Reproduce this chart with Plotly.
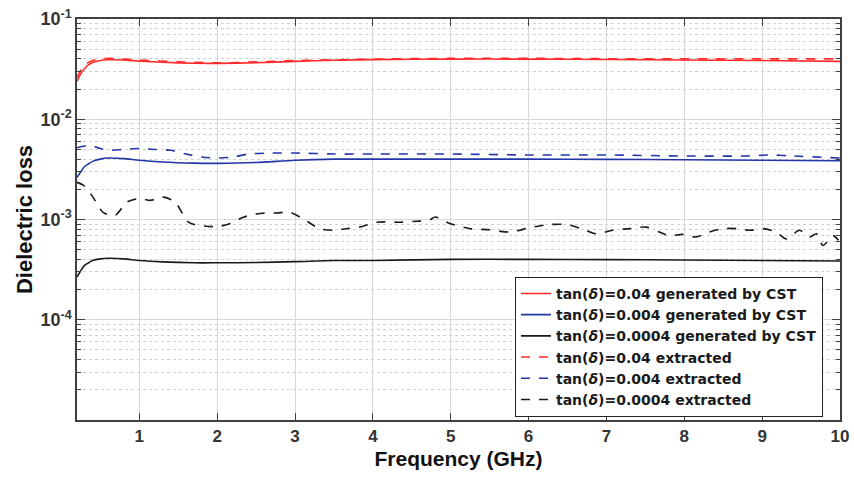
import plotly.graph_objects as go

# Frequency grids (GHz)
freq_cst = [0.2, 0.25, 0.3, 0.35, 0.4, 0.5, 0.6, 0.8, 1.0, 1.3, 1.7, 2.0, 2.5, 3.0,
            3.5, 4.0, 5.0, 6.0, 7.0, 8.0, 9.0, 10.0]

# Dielectric loss generated by CST
red_cst = [0.0239, 0.0285, 0.0322, 0.0350, 0.0368, 0.0385, 0.0392, 0.0390, 0.0380,
           0.0370, 0.0362, 0.0361, 0.0366, 0.0378, 0.0388, 0.0393, 0.0398, 0.0398,
           0.0395, 0.0390, 0.0385, 0.0378]
blue_cst = [0.00263, 0.0030, 0.0034, 0.0036, 0.0038, 0.0040, 0.0041, 0.00405, 0.0039,
            0.00375, 0.00365, 0.00363, 0.0037, 0.0039, 0.0040, 0.0040, 0.0040, 0.0040,
            0.00398, 0.00395, 0.0039, 0.00385]
black_cst = [0.000267, 0.00031, 0.00035, 0.00037, 0.00039, 0.000405, 0.00041, 0.000405,
             0.00039, 0.000378, 0.00037, 0.00037, 0.000372, 0.00038, 0.00039, 0.00039,
             0.00040, 0.00040, 0.000398, 0.000395, 0.00039, 0.000385]

# Extracted dielectric loss
freq_red_ext = [0.2, 0.25, 0.3, 0.4, 0.5, 0.6, 0.7, 0.8, 1.0, 1.5, 2.0, 3.0, 4.0, 5.0,
                6.0, 7.0, 8.0, 9.0, 10.0]
red_ext = [0.026, 0.031, 0.035, 0.0385, 0.0400, 0.0405, 0.0402, 0.0398, 0.0390, 0.0375,
           0.0365, 0.0385, 0.0398, 0.0405, 0.0405, 0.0402, 0.0400, 0.0400, 0.0400]

freq_blue_ext = [0.2, 0.3, 0.37, 0.5, 0.6, 0.8, 1.0, 1.2, 1.4, 1.6, 1.8, 2.0, 2.2, 2.4,
                 2.7, 3.0, 3.5, 4.0, 5.0, 6.0, 7.0, 8.0, 8.8, 9.1, 9.4, 10.0]
blue_ext = [0.0052, 0.0054, 0.0055, 0.0051, 0.0049, 0.0050, 0.0051, 0.0050, 0.0049,
            0.0045, 0.0042, 0.0041, 0.0042, 0.0045, 0.0046, 0.0046, 0.0045, 0.0045,
            0.0045, 0.0044, 0.0044, 0.0043, 0.0043, 0.0044, 0.0043, 0.0041]

freq_black_ext = [0.2, 0.28, 0.39, 0.54, 0.69, 0.84, 1.01, 1.14, 1.31, 1.46, 1.63, 1.78,
                  2.0, 2.17, 2.33, 2.55, 2.76, 2.93, 3.1, 3.32, 3.49, 3.66, 3.83, 4.05,
                  4.35, 4.56, 4.73, 4.8, 4.99, 5.25, 5.5, 5.76, 6.02, 6.27, 6.49, 6.7,
                  6.87, 7.08, 7.3, 7.51, 7.68, 7.81, 7.98, 8.15, 8.32, 8.5, 8.67, 8.84,
                  9.01, 9.18, 9.31, 9.48, 9.61, 9.7, 9.78, 9.91, 9.98]
black_ext = [0.00235, 0.00220, 0.00174, 0.00117, 0.00110, 0.00149, 0.00162, 0.00155,
             0.00167, 0.00149, 0.00094, 0.00087, 0.00085, 0.00091, 0.00105, 0.00115,
             0.00116, 0.00118, 0.00102, 0.00081, 0.00078, 0.00081, 0.00084, 0.00094,
             0.00094, 0.00096, 0.00099, 0.00106, 0.00091, 0.00081, 0.00079, 0.00075,
             0.00083, 0.00089, 0.00089, 0.00080, 0.00072, 0.00078, 0.00081, 0.00084,
             0.00075, 0.00069, 0.00071, 0.00067, 0.00075, 0.00081, 0.00081, 0.00078,
             0.00081, 0.00075, 0.00064, 0.00078, 0.00067, 0.00072, 0.00055, 0.00069,
             0.00062]

x_ticks = [1, 2, 3, 4, 5, 6, 7, 8, 9, 10]
y_ticks = [1e-4, 1e-3, 1e-2, 1e-1]
y_ticktext = ["10<sup>-4</sup>", "10<sup>-3</sup>", "10<sup>-2</sup>", "10<sup>-1</sup>"]
y_minor = [m * 10.0 ** e for e in (-5, -4, -3, -2) for m in range(2, 10)]

RED, BLUE, BLACK = "#ff2a2a", "#2236a8", "#1a1a1a"
FONT = "Liberation Sans, Arial, sans-serif"
LEGEND_FONT = "DejaVu Sans, Verdana, sans-serif"

series = [
    (freq_cst, red_cst, RED, "solid", "tan(<i>δ</i>)=0.04 generated by CST"),
    (freq_cst, blue_cst, BLUE, "solid", "tan(<i>δ</i>)=0.004 generated by CST"),
    (freq_cst, black_cst, BLACK, "solid", "tan(<i>δ</i>)=0.0004 generated by CST"),
    (freq_red_ext, red_ext, RED, "dash", "tan(<i>δ</i>)=0.04 extracted"),
    (freq_blue_ext, blue_ext, BLUE, "dash", "tan(<i>δ</i>)=0.004 extracted"),
    (freq_black_ext, black_ext, BLACK, "dash", "tan(<i>δ</i>)=0.0004 extracted"),
]

fig = go.Figure()
for fx, fy, color, dash, name in series:
    fig.add_trace(go.Scatter(
        x=fx, y=fy, mode="lines", name=name,
        line=dict(color=color, width=1.6, dash=dash, shape="spline", smoothing=0.8),
    ))

axis_color = "#404040"
fig.update_layout(
    width=854, height=480,
    margin=dict(l=77, r=14, t=19, b=60, autoexpand=False),
    paper_bgcolor="white", plot_bgcolor="white",
    font=dict(family=FONT, color="#333333"),
    showlegend=True,
    legend=dict(
        x=0.574, y=0.357, xanchor="left", yanchor="top",
        bgcolor="white", bordercolor="#222222", borderwidth=1,
        font=dict(family=LEGEND_FONT, size=14, color="#1a1a1a", weight="bold"),
        itemwidth=30, tracegroupgap=0,
    ),
    xaxis=dict(
        range=[0.2, 10], tickvals=x_ticks, ticks="inside", ticklen=7,
        tickcolor=axis_color, showline=True, linecolor=axis_color, linewidth=1.5,
        mirror="ticks", showgrid=True, gridcolor="#d5d8de", gridwidth=1, zeroline=False,
        tickfont=dict(family=FONT, size=17, color="#333333", weight="bold"),
        title=dict(text="Frequency (GHz)", standoff=6,
                   font=dict(family=FONT, size=21, color="#111111", weight="bold")),
    ),
    yaxis=dict(
        type="log", range=[-5, -1], tickvals=y_ticks, ticktext=y_ticktext,
        ticks="inside", ticklen=8, tickcolor=axis_color,
        showline=True, linecolor=axis_color, linewidth=1.5, mirror="ticks",
        showgrid=True, gridcolor="#d5d8de", gridwidth=1, zeroline=False,
        tickfont=dict(family=FONT, size=18, color="#333333", weight="bold"),
        title=dict(text="Dielectric loss", standoff=2,
                   font=dict(family=FONT, size=22, color="#111111", weight="bold")),
        minor=dict(tickvals=y_minor, ticks="inside", ticklen=4, tickcolor=axis_color,
                   showgrid=True, gridcolor="#cdd0d6", griddash="dot", gridwidth=1),
    ),
)

fig.write_html("out.html")
